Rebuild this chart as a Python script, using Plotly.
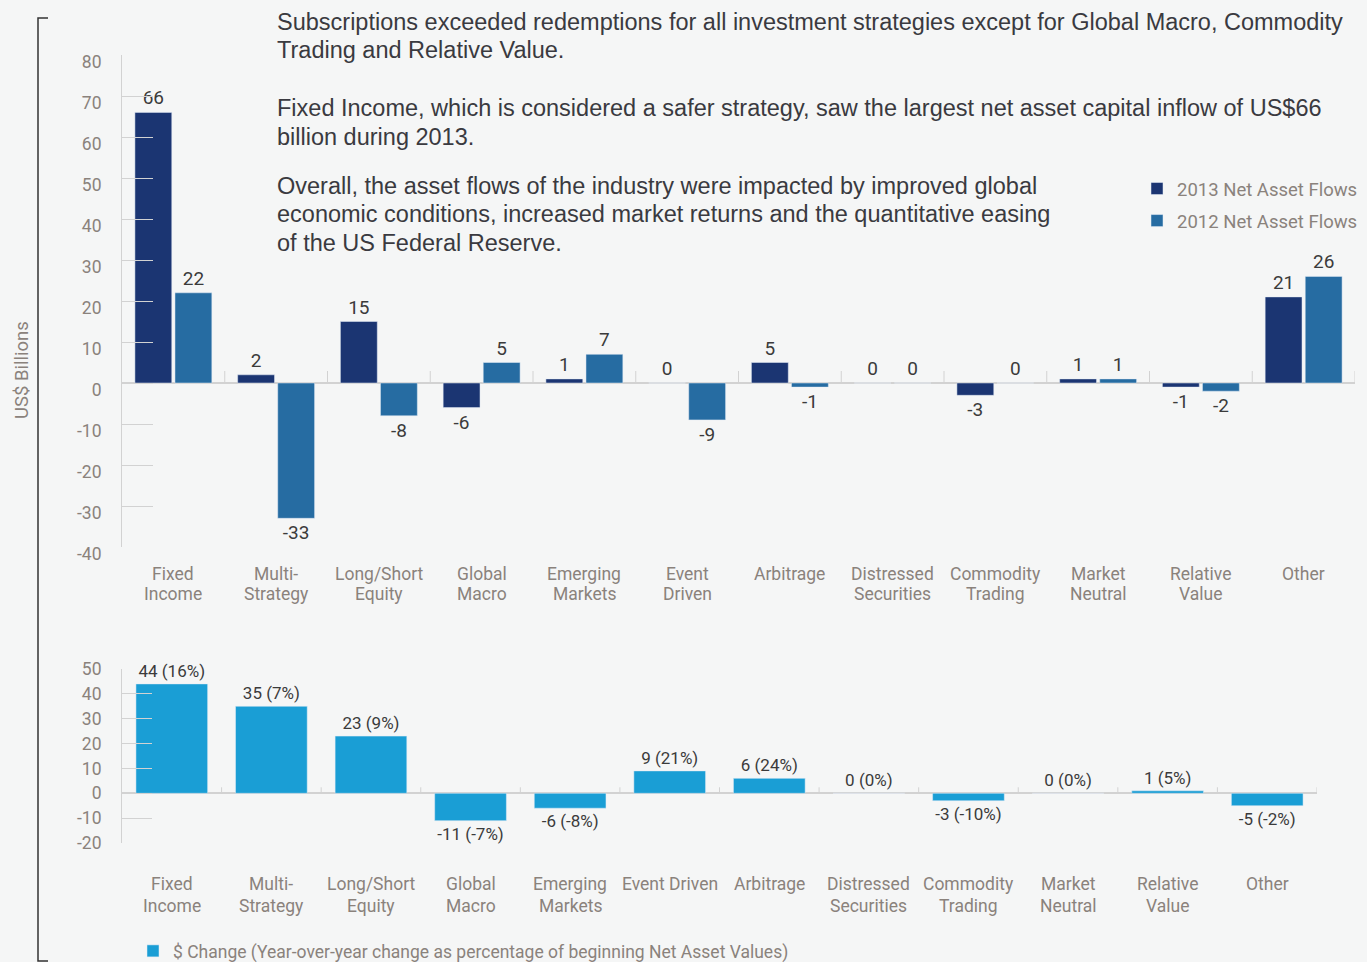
import plotly.graph_objects as go

# ---------------- data ----------------
categories = ["Fixed Income", "Multi-Strategy", "Long/Short Equity", "Global Macro",
              "Emerging Markets", "Event Driven", "Arbitrage", "Distressed Securities",
              "Commodity Trading", "Market Neutral", "Relative Value", "Other"]
top_labels = [["Fixed", "Income"], ["Multi-", "Strategy"], ["Long/Short", "Equity"],
              ["Global", "Macro"], ["Emerging", "Markets"], ["Event", "Driven"],
              ["Arbitrage"], ["Distressed", "Securities"], ["Commodity", "Trading"],
              ["Market", "Neutral"], ["Relative", "Value"], ["Other"]]
bottom_labels = [["Fixed", "Income"], ["Multi-", "Strategy"], ["Long/Short", "Equity"],
                 ["Global", "Macro"], ["Emerging", "Markets"], ["Event Driven"],
                 ["Arbitrage"], ["Distressed", "Securities"], ["Commodity", "Trading"],
                 ["Market", "Neutral"], ["Relative", "Value"], ["Other"]]
flows_2013 = [66, 2, 15, -6, 1, 0, 5, 0, -3, 1, -1, 21]
flows_2012 = [22, -33, -8, 5, 7, -9, -1, 0, 0, 1, -2, 26]
change_usd = [44, 35, 23, -11, -6, 9, 6, 0, -3, 0, 1, -5]
change_pct = [16, 7, 9, -7, -8, 21, 24, 0, -10, 0, 5, -2]
top_ticks = [80, 70, 60, 50, 40, 30, 20, 10, 0, -10, -20, -30, -40]
bottom_ticks = [50, 40, 30, 20, 10, 0, -10, -20]
paragraphs = [
    ["Subscriptions exceeded redemptions for all investment strategies except for Global Macro, Commodity",
     "Trading and Relative Value."],
    ["Fixed Income, which is considered a safer strategy, saw the largest net asset capital inflow of US$66",
     "billion during 2013."],
    ["Overall, the asset flows of the industry were impacted by improved global",
     "economic conditions, increased market returns and the quantitative easing",
     "of the US Federal Reserve."],
]
series_names = ["2013 Net Asset Flows", "2012 Net Asset Flows"]
bottom_name = "$ Change (Year-over-year change as percentage of beginning Net Asset Values)"

# ---------------- style ----------------
W, H = 1367, 962
NARROW = "Roboto, Liberation Sans Narrow, sans-serif"
SANS = "Liberation Sans, Arial, Helvetica, sans-serif"
GRAY = "#8a827c"
DARK = "#3b3b3b"
LINE = "#d2d2d2"
C2013 = "#1b3572"
C2012 = "#266ca2"
CCHG = "#1a9ed5"
BG = "#f5f6f6"


def px(x):
    return x / W


def py(y):
    return 1 - y / H


fig = go.Figure()

fig.add_trace(go.Bar(
    x=categories, y=flows_2013, name=series_names[0], marker_color=C2013,
    text=[str(v) for v in flows_2013], texttemplate="%{text}", textposition="outside",
    textfont=dict(family=NARROW, size=19, color=DARK), constraintext="none",
    cliponaxis=False, xaxis="x", yaxis="y", legend="legend", legendgroup="g2013"))
fig.add_trace(go.Bar(
    x=categories, y=flows_2012, name=series_names[1], marker_color=C2012,
    text=[str(v) for v in flows_2012], texttemplate="%{text}", textposition="outside",
    textfont=dict(family=NARROW, size=19, color=DARK), constraintext="none",
    cliponaxis=False, xaxis="x", yaxis="y", legend="legend", legendgroup="g2012"))
fig.add_trace(go.Bar(
    x=categories, y=change_usd, name=bottom_name, marker_color=CCHG,
    text=[f"{v} ({p}%)" for v, p in zip(change_usd, change_pct)], texttemplate="%{text}",
    textposition="outside", textfont=dict(family=NARROW, size=17, color=DARK),
    constraintext="none", cliponaxis=False, xaxis="x2", yaxis="y2", legend="legend2",
    width=0.72))

axis_common = dict(showgrid=False, showline=False, ticks="", showticklabels=False,
                   range=[-0.5, 11.5], zeroline=False)
yaxis_common = dict(showgrid=False, showline=True, linecolor=LINE, linewidth=1,
                    ticks="inside", tickcolor=LINE, tickwidth=1,
                    zeroline=True, zerolinecolor=LINE, zerolinewidth=1.5,
                    tickfont=dict(family=NARROW, size=17.5, color=GRAY))

fig.update_layout(
    width=W, height=H,
    margin=dict(l=0, r=0, t=0, b=0, pad=0, autoexpand=False),
    paper_bgcolor=BG, plot_bgcolor="rgba(0,0,0,0)",
    barmode="group", bargap=0.22, bargroupgap=0.08,
    showlegend=True,
    xaxis=dict(domain=[px(122), px(1355)], anchor="y", **axis_common),
    yaxis=dict(domain=[py(547), py(55)], anchor="x", range=[-40, 80],
               tickvals=top_ticks, ticktext=[str(t) for t in top_ticks],
               ticklen=31, ticklabelstandoff=16, ticklabelshift=7, **yaxis_common),
    xaxis2=dict(domain=[px(122), px(1317)], anchor="y2", **axis_common),
    yaxis2=dict(domain=[py(843), py(669)], anchor="x2", range=[-20, 50],
                tickvals=bottom_ticks, ticktext=[str(t) for t in bottom_ticks],
                ticklen=30, ticklabelstandoff=16, **yaxis_common),
    legend=dict(x=px(1137), y=py(170), xanchor="left", yanchor="top",
                bgcolor="rgba(0,0,0,0)", font=dict(family=NARROW, size=18.5, color=GRAY),
                itemwidth=30, tracegroupgap=5),
    legend2=dict(x=px(133), y=py(933), xanchor="left", yanchor="top",
                 bgcolor="rgba(0,0,0,0)", font=dict(family=NARROW, size=17.5, color=GRAY),
                 itemwidth=30),
)

annotations = []
# paragraphs
line_y = [[22, 50], [108, 137], [186, 214, 243]]
for para, ys in zip(paragraphs, line_y):
    for line, yy in zip(para, ys):
        annotations.append(dict(text=line, x=px(275), y=py(yy), xref="paper", yref="paper",
                                xanchor="left", yanchor="middle", showarrow=False,
                                font=dict(family=SANS, size=23.5, color="#3a3a40")))
# y axis title
annotations.append(dict(text="US$ Billions", x=px(22), y=py(370), xref="paper", yref="paper",
                        textangle=-90, showarrow=False, xanchor="center", yanchor="middle",
                        font=dict(family=NARROW, size=18.5, color=GRAY)))
# category labels (top & bottom)
for cat, lines in zip(categories, top_labels):
    for k, ln in enumerate(lines):
        annotations.append(dict(text=ln, x=cat, xref="x", y=py(574 + 20 * k), yref="paper",
                                showarrow=False, xanchor="center", yanchor="middle",
                                font=dict(family=NARROW, size=17.5, color=GRAY)))
for cat, lines in zip(categories, bottom_labels):
    for k, ln in enumerate(lines):
        annotations.append(dict(text=ln, x=cat, xref="x2", y=py(884 + 22 * k), yref="paper",
                                showarrow=False, xanchor="center", yanchor="middle",
                                font=dict(family=NARROW, size=17.5, color=GRAY)))
fig.update_layout(annotations=annotations)

shapes = []
# category boundary ticks on zero lines
for i in range(len(categories)):
    b = i + 0.5
    shapes.append(dict(type="line", xref="x", yref="y", x0=b, x1=b, ysizemode="pixel",
                       yanchor=0, y0=0, y1=12, line=dict(color=LINE, width=1)))
    shapes.append(dict(type="line", xref="x2", yref="y2", x0=b, x1=b, ysizemode="pixel",
                       yanchor=0, y0=0, y1=6, line=dict(color=LINE, width=1)))
# left bracket
shapes.append(dict(type="path", xref="paper", yref="paper",
                   path=f"M {px(48)},{py(18)} L {px(38)},{py(18)} L {px(38)},{py(961)} L {px(48)},{py(961)}",
                   line=dict(color="#333333", width=1.5)))
fig.update_layout(shapes=shapes)

fig.write_html("out.html", config={"displayModeBar": False},
               post_script="document.body.style.margin='0';document.body.style.overflow='hidden';")
